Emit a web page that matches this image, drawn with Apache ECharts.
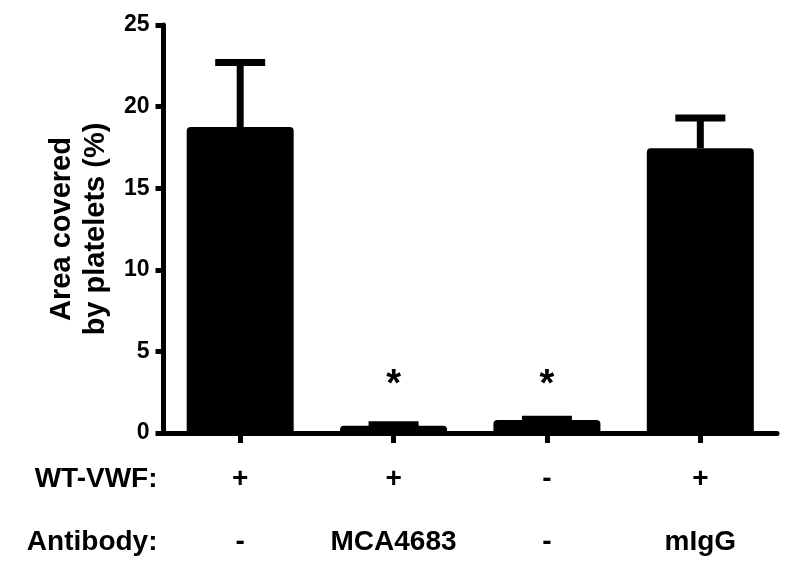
<!DOCTYPE html>
<html>
<head>
<meta charset="utf-8">
<script src="https://cdn.jsdelivr.net/npm/echarts@6/dist/echarts.min.js"></script>
<style>html,body{margin:0;padding:0;background:#fff}#c{width:790px;height:573px}</style>
</head>
<body>
<div id="c"></div>
<script>
const categories = ['g1', 'g2', 'g3', 'g4'];
const means = [18.75, 0.45, 0.8, 17.45];
const uppers = [22.7, 0.5, 0.85, 19.3];
const wtRow = ['+', '+', '-', '+'];
const antibodyRow = ['-', 'MCA4683', '-', 'mIgG'];
const starPos = [null, 2.9, 2.9, null];
const yTicks = [0, 5, 10, 15, 20, 25];

const FONT = '"Liberation Sans", Arial, sans-serif';
const chart = echarts.init(document.getElementById('c'), null, {renderer: 'canvas'});

const rowAxis = (data, name, offset) => ({
  type: 'category', data: data, position: 'bottom', offset: offset,
  axisLine: {show: false}, axisTick: {show: false}, splitLine: {show: false},
  axisLabel: {show: true, interval: 0, hideOverlap: false, margin: 0, verticalAlign: 'middle', color: '#000',
    fontFamily: FONT, fontWeight: 'bold', fontSize: 28},
  name: name, nameLocation: 'start', nameGap: 6,
  nameTextStyle: {color: '#000', fontFamily: FONT, fontWeight: 'bold', fontSize: 28,
    align: 'right', verticalAlign: 'middle'}
});

chart.setOption({
  animation: false,
  backgroundColor: '#fff',
  grid: {left: 163.5, right: 13, top: 25, bottom: 140, containLabel: false},
  xAxis: [
    {type: 'category', data: categories,
     axisLine: {show: true, lineStyle: {color: '#000', width: 5}},
     axisTick: {show: true, alignWithLabel: true, length: 10, lineStyle: {color: '#000', width: 5}},
     axisLabel: {show: false}, splitLine: {show: false}},
    rowAxis(wtRow, 'WT-VWF:', 46),
    rowAxis(antibodyRow, 'Antibody:', 109)
  ],
  yAxis: {
    type: 'value', min: yTicks[0], max: yTicks[yTicks.length - 1], interval: 5,
    axisLine: {show: true, lineStyle: {color: '#000', width: 5}},
    axisTick: {show: true, length: 8, lineStyle: {color: '#000', width: 5}},
    axisLabel: {margin: 14, color: '#000', fontFamily: FONT, fontWeight: 'bold', fontSize: 23},
    splitLine: {show: false},
    name: 'Area covered\nby platelets (%)', nameLocation: 'middle', nameGap: 50, nameRotate: 90,
    nameTextStyle: {color: '#000', fontFamily: FONT, fontWeight: 'bold', fontSize: 29, lineHeight: 34}
  },
  series: [
    {type: 'bar', data: means, barWidth: 107, xAxisIndex: 0,
     itemStyle: {color: '#000', borderRadius: [4, 4, 0, 0]}, z: 2},
    {type: 'custom', xAxisIndex: 0, z: 3,
     data: categories.map((c, i) => [i, means[i], uppers[i]]),
     renderItem: function (params, api) {
       const base = api.coord([api.value(0), api.value(1)]);
       const top = api.coord([api.value(0), api.value(2)]);
       const half = 25;
       return {type: 'group', children: [
         {type: 'line', shape: {x1: base[0], y1: base[1], x2: top[0], y2: top[1]},
          style: {stroke: '#000', lineWidth: 7}},
         {type: 'line', shape: {x1: top[0] - half, y1: top[1], x2: top[0] + half, y2: top[1]},
          style: {stroke: '#000', lineWidth: 7}}
       ]};
     }},
    {type: 'scatter', xAxisIndex: 0, symbolSize: 1, itemStyle: {opacity: 0},
     data: starPos.map((v, i) => v == null ? null : [i, v]).filter(d => d),
     label: {show: true, position: 'inside', formatter: '*', color: '#000',
       fontFamily: FONT, fontWeight: 'bold', fontSize: 38, opacity: 1}}
  ]
});
</script>
</body>
</html>
